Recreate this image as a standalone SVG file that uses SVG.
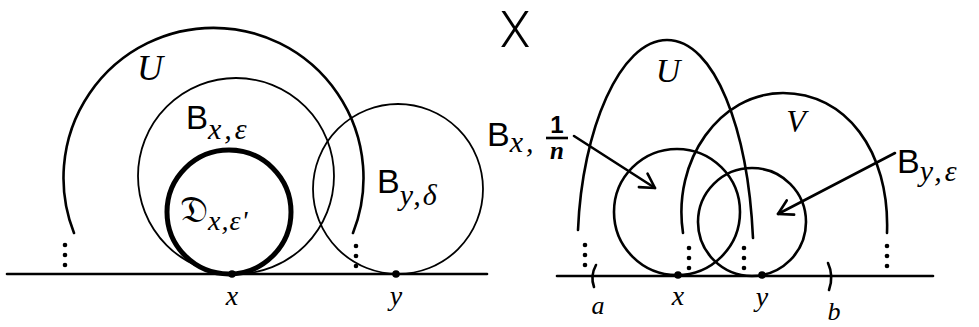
<svg xmlns="http://www.w3.org/2000/svg" width="979" height="327" viewBox="0 0 979 327">
<style>
.ln{fill:none;stroke:#000;stroke-width:2.6;stroke-linecap:round}
.thin{fill:none;stroke:#000;stroke-width:1.8}
.thick{fill:none;stroke:#000;stroke-width:5}
.dot{fill:#000}
.t{font-family:"Liberation Sans","DejaVu Sans",sans-serif;fill:#000}
.m{font-family:"Liberation Serif","DejaVu Serif",serif;font-style:italic;fill:#000}
</style>
<defs>
<marker id="ah" markerUnits="userSpaceOnUse" markerWidth="24" markerHeight="24" refX="0" refY="0" viewBox="-20 -12 24 24" orient="auto" overflow="visible">
<path d="M-14,-8 L0,0 L-14,8" fill="none" stroke="#000" stroke-width="2.6" stroke-linecap="round" stroke-linejoin="round"/>
</marker>
<g id="vd"><circle cx="0" cy="0" r="2.3"/><circle cx="0" cy="10" r="2.3"/><circle cx="0" cy="20" r="2.3"/></g>
</defs>

<!-- Left panel -->
<g id="left-baseline"><line class="ln" x1="7" y1="274" x2="487" y2="274" stroke-width="3"/></g>
<g id="left-U">
<path class="ln" d="M74,233 A150,150 0 1 1 353,233"/>
<use href="#vd" x="65" y="245"/>
<use href="#vd" x="356" y="246"/>
<text class="m" x="150" y="80" font-size="36" text-anchor="middle">U</text>
</g>
<g id="B-x-eps">
<circle class="thin" cx="236" cy="176" r="98"/>
<text class="t" x="186" y="129" font-size="33">B<tspan class="m" font-size="30" dy="10" letter-spacing="3">x,ε</tspan></text>
</g>
<g id="D-x-eps">
<circle class="thick" cx="229" cy="212" r="62"/>
<text class="t" x="180" y="222" font-size="38" font-family="Liberation Serif,serif">𝔇<tspan class="m" font-size="28" dy="8" letter-spacing="1">x,ε'</tspan></text>
</g>
<g id="B-y-delta">
<circle class="thin" cx="398" cy="189" r="85"/>
<text class="t" x="377" y="193" font-size="34">B<tspan class="m" font-size="30" dy="12" letter-spacing="2">y,δ</tspan></text>
</g>
<g id="pt-x-left"><circle class="dot" cx="232" cy="274" r="3.8"/><text class="m" x="232" y="305" font-size="28" text-anchor="middle">x</text></g>
<g id="pt-y-left"><circle class="dot" cx="396" cy="274" r="3.8"/><text class="m" x="396" y="305" font-size="28" text-anchor="middle">y</text></g>

<!-- Title -->
<g id="title-X"><text x="515" y="47" font-size="50" font-family="Roboto,Lato,'DejaVu Sans',sans-serif" font-weight="300" text-anchor="middle">X</text></g>

<!-- Right panel -->
<g id="right-baseline"><line class="ln" x1="557" y1="276" x2="933" y2="276" stroke-width="3"/></g>
<g id="right-U">
<path class="ln" d="M578,230 C582,130 620,40 667,40 C715,40 748,130 753,238"/>
<use href="#vd" x="585" y="245"/>
<use href="#vd" x="744" y="248"/>
<text class="m" x="668" y="82" font-size="34" text-anchor="middle">U</text>
</g>
<g id="V">
<path class="ln" d="M683,233 C672,160 720,93 783,93 C845,93 890,150 887,233"/>
<use href="#vd" x="689" y="248"/>
<use href="#vd" x="887" y="246"/>
<text class="m" x="796" y="132" font-size="32" text-anchor="middle">V</text>
</g>
<g id="B-x-1n">
<circle class="ln" cx="677" cy="212" r="63"/>
<text class="t" x="487" y="146" font-size="34">B<tspan class="m" font-size="30" dy="6" letter-spacing="3">x,</tspan></text>
<text class="t" x="557" y="133" font-size="24" text-anchor="middle" font-weight="bold">1</text>
<line x1="546" y1="138" x2="568" y2="138" stroke="#000" stroke-width="2.6"/>
<text class="m" x="557" y="159" font-size="25" text-anchor="middle" font-weight="bold">n</text>
</g>
<g id="B-y-eps">
<circle class="ln" cx="752" cy="222" r="54"/>
<text class="t" x="897" y="173" font-size="34">B<tspan class="m" font-size="30" dy="8" letter-spacing="3">y,ε</tspan></text>
</g>
<g id="pt-x-right"><circle class="dot" cx="678" cy="275" r="3.8"/><text class="m" x="678" y="305" font-size="28" text-anchor="middle">x</text></g>
<g id="pt-y-right"><circle class="dot" cx="762" cy="275" r="3.8"/><text class="m" x="762" y="306" font-size="28" text-anchor="middle">y</text></g>
<g id="interval">
<path class="ln" d="M596,265 Q590,276 594,287"/>
<text class="m" x="598" y="314" font-size="26" text-anchor="middle">a</text>
<path class="ln" d="M828,263 Q834,276 829,290"/>
<text class="m" x="834" y="320" font-size="26" text-anchor="middle">b</text>
</g>

<g id="connectors">
<line class="ln" x1="574" y1="136" x2="655" y2="188" marker-end="url(#ah)"/>
<line class="ln" x1="895" y1="153" x2="778" y2="214" marker-end="url(#ah)"/>
</g>
</svg>
